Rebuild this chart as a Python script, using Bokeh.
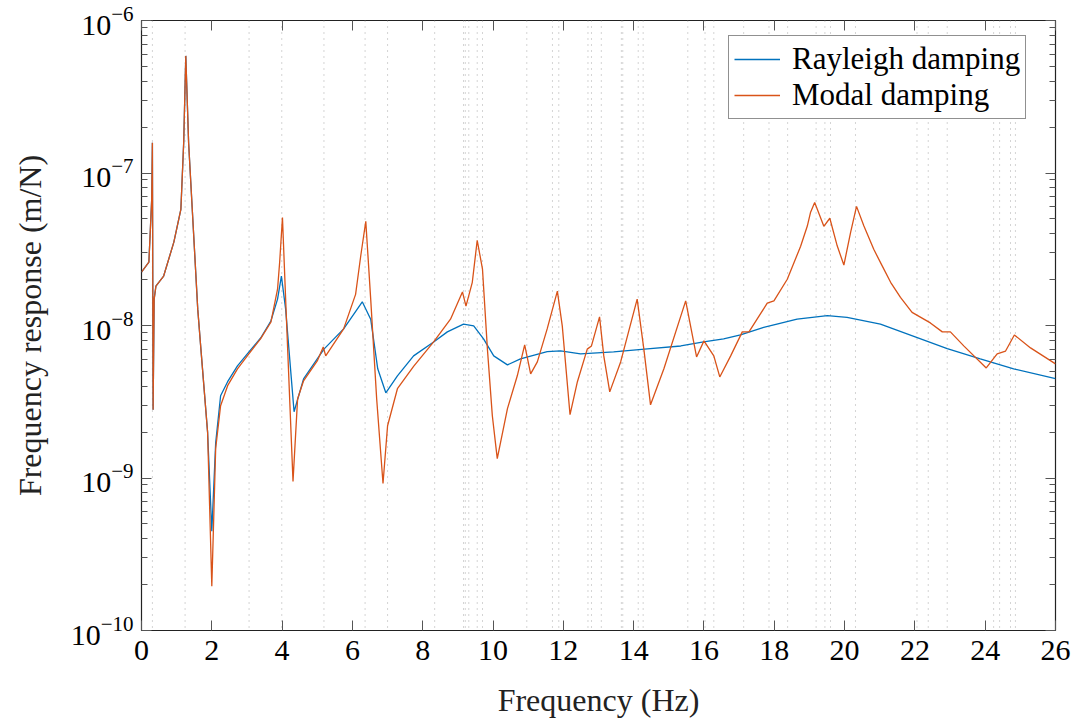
from bokeh.plotting import figure
from bokeh.models import (Range1d, FixedTicker, LinearAxis, LogAxis, Span, Legend, LegendItem,
                          LogTickFormatter)
from bokeh.embed import file_html
from bokeh.resources import INLINE

# ---------------- data ----------------
freq_modal = [0.0, 0.21, 0.29, 0.31, 0.33, 0.36, 0.41, 0.63, 0.92, 1.12, 1.20, 1.26, 1.34, 1.60, 1.69,
              1.88, 2.00, 2.11, 2.25, 2.45, 2.73, 3.01, 3.39, 3.68, 3.87, 3.93, 4.01, 4.10, 4.31, 4.44,
              4.61, 5.00, 5.17, 5.24, 5.75, 6.09, 6.14, 6.24, 6.38, 6.52, 6.69, 6.87, 7.00, 7.28, 7.74,
              8.31, 8.79, 9.13, 9.23, 9.41, 9.55, 9.70, 9.84, 9.98, 10.12, 10.41, 10.69, 10.90, 11.07,
              11.26, 11.54, 11.83, 11.97, 12.19, 12.40, 12.68, 12.80, 13.03, 13.15, 13.32, 13.63, 14.10,
              14.29, 14.48, 14.86, 15.48, 15.79, 16.00, 16.28, 16.45, 16.76, 17.09, 17.28, 17.80, 17.99,
              18.37, 18.75, 18.94, 19.03, 19.15, 19.41, 19.58, 19.79, 19.98, 20.17, 20.34, 20.55, 20.83,
              21.07, 21.31, 21.59, 21.92, 22.44, 22.78, 23.01, 23.39, 24.03, 24.34, 24.58, 24.83, 25.29,
              26.00]
resp_modal = [2.24e-8, 2.6e-8, 6.7e-8, 1.58e-7, 2.8e-9, 1.49e-8, 1.81e-8, 2.11e-8, 3.52e-8, 5.78e-8,
              1.58e-7, 5.86e-7, 1.58e-7, 1.28e-8, 7.0e-9, 2.0e-9, 1.95e-10, 1.56e-9, 2.98e-9, 4.03e-9,
              5.2e-9, 6.32e-9, 8.2e-9, 1.05e-8, 1.73e-8, 2.6e-8, 5.1e-8, 1.49e-8, 9.5e-10, 3.3e-9,
              4.34e-9, 5.86e-9, 7.23e-9, 6.32e-9, 9.5e-9, 1.6e-8, 1.95e-8, 2.9e-8, 4.82e-8, 1.49e-8,
              3.3e-9, 9.2e-10, 2.2e-9, 3.85e-9, 5.4e-9, 7.8e-9, 1.1e-8, 1.66e-8, 1.34e-8, 1.92e-8,
              3.62e-8, 2.34e-8, 7.0e-9, 2.56e-9, 1.34e-9, 2.85e-9, 4.68e-9, 7.46e-9, 4.82e-9, 5.77e-9,
              9.5e-9, 1.68e-8, 9.9e-9, 2.6e-9, 4.28e-9, 7.0e-9, 7.35e-9, 1.14e-8, 6.32e-9, 3.67e-9,
              5.77e-9, 1.49e-8, 7.0e-9, 3.02e-9, 5.2e-9, 1.45e-8, 6.22e-9, 7.93e-9, 6.32e-9, 4.6e-9,
              6.32e-9, 9.08e-9, 9.08e-9, 1.4e-8, 1.45e-8, 2.01e-8, 3.31e-8, 4.49e-8, 5.5e-8, 6.41e-8,
              4.47e-8, 5.05e-8, 3.33e-8, 2.49e-8, 4.06e-8, 6.04e-8, 4.49e-8, 3.16e-8, 2.46e-8, 1.92e-8,
              1.53e-8, 1.22e-8, 1.04e-8, 9.08e-9, 9.08e-9, 7.35e-9, 5.27e-9, 6.52e-9, 6.8e-9, 8.67e-9,
              7.13e-9, 5.6e-9]

freq_rayleigh = [0.0, 0.21, 0.29, 0.31, 0.33, 0.36, 0.41, 0.63, 0.92, 1.12, 1.20, 1.26, 1.34, 1.60, 1.69,
                 1.88, 2.00, 2.11, 2.25, 2.45, 2.73, 3.01, 3.39, 3.68, 3.87, 3.98, 4.10, 4.34, 4.61, 5.00,
                 5.19, 5.75, 6.28, 6.52, 6.72, 6.95, 7.28, 7.74, 8.31, 8.70, 9.16, 9.45, 9.73, 10.02,
                 10.41, 10.78, 11.54, 11.92, 12.49, 13.43, 14.39, 15.34, 15.99, 16.56, 17.04, 17.70,
                 18.65, 19.51, 20.07, 21.02, 21.97, 22.92, 23.86, 24.81, 26.00]
resp_rayleigh = [2.24e-8, 2.6e-8, 6.7e-8, 1.58e-7, 2.8e-9, 1.49e-8, 1.81e-8, 2.11e-8, 3.52e-8, 5.78e-8,
                 1.58e-7, 5.86e-7, 1.58e-7, 1.28e-8, 7.0e-9, 2.0e-9, 4.47e-10, 1.7e-9, 3.46e-9, 4.28e-9,
                 5.43e-9, 6.52e-9, 8.28e-9, 1.07e-8, 1.49e-8, 2.11e-8, 1.28e-8, 2.72e-9, 4.47e-9, 6.04e-9,
                 7.0e-9, 9.5e-9, 1.43e-8, 1.1e-8, 5.2e-9, 3.62e-9, 4.68e-9, 6.32e-9, 7.8e-9, 9.08e-9,
                 1.02e-8, 9.93e-9, 8.17e-9, 6.32e-9, 5.52e-9, 6.04e-9, 6.75e-9, 6.81e-9, 6.52e-9, 6.71e-9,
                 7.02e-9, 7.34e-9, 7.8e-9, 8.17e-9, 8.67e-9, 9.73e-9, 1.1e-8, 1.16e-8, 1.13e-8, 1.02e-8,
                 8.49e-9, 7.05e-9, 6.04e-9, 5.2e-9, 4.48e-9]

natural_freqs = [0.31, 1.24, 3.06, 3.99, 5.19, 6.36, 7.00, 8.34, 9.16, 9.21, 9.31, 9.55, 9.70, 10.96,
                 11.69, 11.87, 12.70, 12.80, 13.08, 13.65, 13.69, 14.13, 14.27, 15.54, 16.03, 16.28,
                 17.13, 17.85, 18.38, 19.19, 19.44, 19.60, 20.31, 22.06, 22.38, 22.92, 24.24, 24.41,
                 24.72, 24.86]

x_ticks = [0, 2, 4, 6, 8, 10, 12, 14, 16, 18, 20, 22, 24, 26]
y_ticks = [1e-10, 1e-9, 1e-8, 1e-7, 1e-6]

series_labels = ["Rayleigh damping", "Modal damping"]
x_label = "Frequency (Hz)"
y_label = "Frequency response (m/N)"

# ---------------- style ----------------
FONT = "Liberation Serif"
BLUE = "#0072BD"
ORANGE = "#D95319"

p = figure(width=1073, height=720, output_backend="svg", toolbar_location=None,
           y_axis_type="log", x_range=Range1d(0, 26), y_range=Range1d(1e-10, 1e-6),
           min_border_left=141, min_border_right=18, min_border_top=20, min_border_bottom=88,
           background_fill_color="white", border_fill_color="white")
p.grid.visible = False
p.outline_line_color = "#222222"
p.outline_line_width = 1.2

minor = [m * d for d in y_ticks[:-1] for m in range(2, 10)]
y_ticker = FixedTicker(ticks=y_ticks, minor_ticks=minor)
x_ticker = FixedTicker(ticks=x_ticks)


def style_axis(ax, labels=True):
    ax.axis_line_color = None
    ax.major_tick_in = 10
    ax.major_tick_out = 0
    ax.minor_tick_in = 6
    ax.minor_tick_out = 0
    ax.major_tick_line_color = "#555555"
    ax.minor_tick_line_color = "#555555"
    ax.major_label_text_font = FONT
    ax.major_label_text_font_size = "30px"
    ax.major_label_text_color = "black"
    ax.axis_label_text_font = FONT
    ax.axis_label_text_font_size = "32px"
    ax.axis_label_text_font_style = "normal"
    ax.axis_label_text_color = "#222222"
    if not labels:
        ax.major_label_text_font_size = "0px"
        ax.major_label_text_color = None


yax = p.yaxis[0]
yax.ticker = y_ticker
yax.formatter = LogTickFormatter()
style_axis(yax)
yax.axis_label = y_label
yax.major_label_standoff = 8
yax.axis_label_standoff = 20

xax = p.xaxis[0]
xax.ticker = x_ticker
style_axis(xax)
xax.axis_label = x_label
xax.major_label_standoff = 10
xax.axis_label_standoff = 19

top_ax = LinearAxis(ticker=x_ticker)
style_axis(top_ax, labels=False)
p.add_layout(top_ax, "above")
right_ax = LogAxis(ticker=y_ticker)
style_axis(right_ax, labels=False)
p.add_layout(right_ax, "right")

# natural frequency markers
for fn in natural_freqs:
    p.add_layout(Span(location=fn, dimension="height", line_color="#a8a8a8",
                      line_dash="1 5", line_width=1, level="underlay"))

r1 = p.line(freq_rayleigh, resp_rayleigh, line_color=BLUE, line_width=1.3)
r2 = p.line(freq_modal, resp_modal, line_color=ORANGE, line_width=1.3)

legend = Legend(items=[LegendItem(label=series_labels[0], renderers=[r1]),
                       LegendItem(label=series_labels[1], renderers=[r2])],
                location=(587, 511))
legend.label_text_font = FONT
legend.label_text_font_size = "31px"
legend.label_text_color = "black"
legend.border_line_color = "#222222"
legend.border_line_width = 1
legend.background_fill_alpha = 1
legend.glyph_width = 46
legend.glyph_height = 28
legend.label_height = 28
legend.label_standoff = 12
legend.spacing = -3
legend.padding = 5
legend.margin = 0
p.add_layout(legend)

open("out.html", "w").write(file_html(p, INLINE))
